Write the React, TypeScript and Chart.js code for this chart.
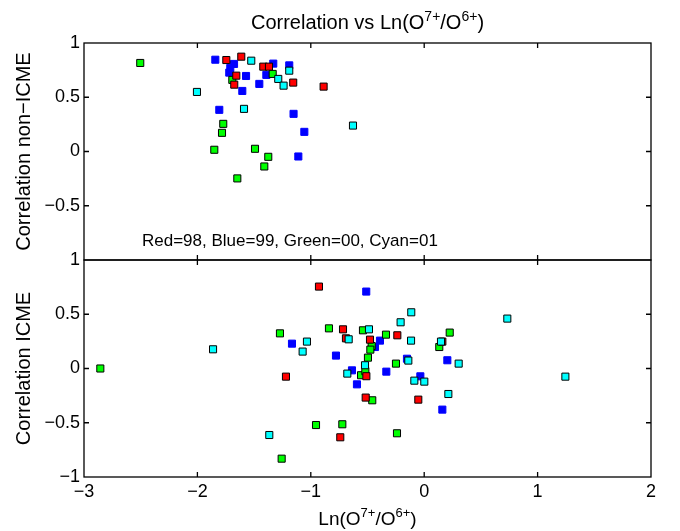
import { useEffect, useRef } from 'react';
import { Chart, registerables } from 'chart.js';

Chart.register(...registerables);

// ---------- data ----------
// Top panel: Correlation non-ICME
const redTopX = [-1.745, -1.613, -1.657, -1.675, -1.419, -1.369, -1.155, -0.887];
const redTopY = [0.843, 0.874, 0.699, 0.616, 0.782, 0.782, 0.635, 0.598];
const blueTopX = [-1.842, -1.677, -1.71, -1.719, -1.571, -1.604, -1.454, -1.331, -1.392, -1.19, -1.807, -1.152, -1.057, -1.11];
const blueTopY = [0.846, 0.807, 0.77, 0.727, 0.696, 0.558, 0.623, 0.81, 0.706, 0.794, 0.384, 0.347, 0.181, -0.046];
const greenTopX = [-2.504, -1.692, -1.336, -1.772, -1.783, -1.851, -1.492, -1.375, -1.41, -1.648];
const greenTopY = [0.816, 0.66, 0.715, 0.255, 0.172, 0.016, 0.025, -0.049, -0.138, -0.248];
const cyanTopX = [-1.525, -1.287, -1.24, -1.19, -2.004, -1.589, -0.628];
const cyanTopY = [0.837, 0.669, 0.607, 0.745, 0.549, 0.393, 0.239];

// Bottom panel: Correlation ICME
const redBotX = [-0.928, -0.716, -0.69, -0.478, -1.219, -0.51, -0.516, -0.74, -0.237, -0.052, 0.16];
const redBotY = [0.755, 0.361, 0.278, 0.266, -0.075, -0.071, -0.268, -0.634, 0.306, -0.287, 0.248];
const blueBotX = [-0.511, -1.166, -0.778, -0.637, -0.593, -0.39, -0.434, -0.334, -0.152, -0.034, 0.204, 0.16];
const blueBotY = [0.709, 0.229, 0.119, -0.017, -0.146, 0.257, 0.198, -0.029, 0.09, -0.072, 0.076, -0.379];
const greenBotX = [-2.856, -1.272, -0.84, -0.54, -0.496, -0.463, -0.475, -0.557, -0.519, -0.458, -0.954, -0.722, -1.257, -0.337, -0.249, -0.24, 0.225, 0.133];
const greenBotY = [0.0, 0.324, 0.37, 0.352, 0.1, 0.207, 0.174, -0.062, -0.025, -0.293, -0.521, -0.514, -0.831, 0.312, 0.045, -0.597, 0.331, 0.198];
const cyanBotX = [-1.862, -0.487, -1.034, -1.072, -0.666, -0.678, -0.522, -1.366, -0.208, -0.114, -0.116, -0.14, -0.087, 0.001, 0.148, 0.304, 0.213, 0.733, 1.245];
const cyanBotY = [0.177, 0.361, 0.248, 0.156, 0.269, -0.047, 0.03, -0.613, 0.426, 0.518, 0.257, 0.073, -0.112, -0.121, 0.248, 0.045, -0.235, 0.46, -0.075];

const xMin = -3;
const xMax = 2;
const xStep = 1;
const yMin = -1;
const yMax = 1;
const yStep = 0.5;

const titleParts = [
  { t: 'Correlation vs Ln(O' },
  { t: '7+', sup: true },
  { t: '/O' },
  { t: '6+', sup: true },
  { t: ')' },
];
const xTitleParts = [
  { t: 'Ln(O' },
  { t: '7+', sup: true },
  { t: '/O' },
  { t: '6+', sup: true },
  { t: ')' },
];
const yTopTitle = 'Correlation non\u2212ICME';
const yBotTitle = 'Correlation ICME';
const noteText = 'Red=98, Blue=99, Green=00, Cyan=01';

const FONT = "'Liberation Sans', Arial, sans-serif";

const zip = (xs: number[], ys: number[]) => xs.map((x, i) => ({ x, y: ys[i] }));

const fmt = (v: number) => {
  const s = String(Math.abs(Math.round(v * 100) / 100));
  return v < 0 ? '\u2212' + s : s;
};

function drawRich(ctx: CanvasRenderingContext2D, parts: { t: string; sup?: boolean }[], cx: number, baseline: number, size: number) {
  const supSize = Math.round(size * 0.7);
  let total = 0;
  const widths = parts.map((p) => {
    ctx.font = `${p.sup ? supSize : size}px ${FONT}`;
    const w = ctx.measureText(p.t).width;
    total += w;
    return w;
  });
  let x = cx - total / 2;
  ctx.textAlign = 'left';
  ctx.textBaseline = 'alphabetic';
  ctx.fillStyle = '#000';
  parts.forEach((p, i) => {
    ctx.font = `${p.sup ? supSize : size}px ${FONT}`;
    ctx.fillText(p.t, x, p.sup ? baseline - size * 0.42 : baseline);
    x += widths[i];
  });
}

const framePlugin = {
  id: 'matlabFrame',
  afterDraw(chart: any) {
    const ctx = chart.ctx as CanvasRenderingContext2D;
    const area = chart.chartArea;
    const xs = chart.scales.x;
    ctx.save();
    ctx.strokeStyle = '#000';
    ctx.lineWidth = 1.3;
    const tl = 5;
    ['yT', 'yB'].forEach((id) => {
      const s = chart.scales[id];
      const top = s.getPixelForValue(yMax);
      const bottom = s.getPixelForValue(yMin);
      ctx.strokeRect(area.left, top, area.right - area.left, bottom - top);
      ctx.beginPath();
      for (let v = xMin + xStep; v < xMax; v += xStep) {
        const px = xs.getPixelForValue(v);
        ctx.moveTo(px, top);
        ctx.lineTo(px, top + tl);
        ctx.moveTo(px, bottom);
        ctx.lineTo(px, bottom - tl);
      }
      for (let v = yMin + yStep; v < yMax - 1e-9; v += yStep) {
        const py = s.getPixelForValue(v);
        ctx.moveTo(area.left, py);
        ctx.lineTo(area.left + tl, py);
        ctx.moveTo(area.right, py);
        ctx.lineTo(area.right - tl, py);
      }
      ctx.stroke();
    });
    // texts
    drawRich(ctx, titleParts, (area.left + area.right) / 2, 29, 20);
    drawRich(ctx, xTitleParts, (area.left + area.right) / 2, 525, 19);
    ctx.font = `17px ${FONT}`;
    ctx.textAlign = 'left';
    ctx.textBaseline = 'alphabetic';
    ctx.fillStyle = '#000';
    ctx.fillText(noteText, 142, 246);
    ctx.restore();
  },
};

function mk(label: string, xs: number[], ys: number[], color: string, axis: string, order: number, border: string) {
  return {
    label,
    data: zip(xs, ys),
    yAxisID: axis,
    xAxisID: 'x',
    backgroundColor: color,
    borderColor: border,
    borderWidth: 1,
    pointStyle: 'rect',
    pointRadius: 5,
    pointHoverRadius: 5,
    order,
    showLine: false,
  };
}

export default function App() {
  const ref = useRef<HTMLCanvasElement>(null);
  useEffect(() => {
    if (!ref.current) return;
    const yScale = (title: string, hideMin: boolean) => ({
      type: 'linear',
      position: 'left',
      stack: 'panels',
      stackWeight: 1,
      min: yMin,
      max: yMax,
      afterFit: (s: any) => {
        s.width = 84;
      },
      grid: { display: false, drawTicks: false },
      border: { display: false },
      ticks: {
        stepSize: yStep,
        padding: 4,
        color: '#000',
        font: { size: 18, family: FONT },
        callback: (v: any) => (hideMin && v === yMin ? '' : fmt(Number(v))),
      },
      title: {
        display: true,
        text: title,
        color: '#000',
        font: { size: 20, family: FONT, weight: 'normal' },
        padding: { top: 12, bottom: 0 },
      },
    });
    const chart = new Chart(ref.current, {
      type: 'scatter',
      data: {
        datasets: [
          mk('Red 98 non-ICME', redTopX, redTopY, '#ff0000', 'yT', 1, '#000'),
          mk('Blue 99 non-ICME', blueTopX, blueTopY, '#0000ff', 'yT', 3, '#0000ff'),
          mk('Green 00 non-ICME', greenTopX, greenTopY, '#00ff00', 'yT', 2, '#000'),
          mk('Cyan 01 non-ICME', cyanTopX, cyanTopY, '#00ffff', 'yT', 0, '#000'),
          mk('Red 98 ICME', redBotX, redBotY, '#ff0000', 'yB', 1, '#000'),
          mk('Blue 99 ICME', blueBotX, blueBotY, '#0000ff', 'yB', 3, '#0000ff'),
          mk('Green 00 ICME', greenBotX, greenBotY, '#00ff00', 'yB', 2, '#000'),
          mk('Cyan 01 ICME', cyanBotX, cyanBotY, '#00ffff', 'yB', 0, '#000'),
        ] as any,
      },
      options: {
        animation: false,
        responsive: false,
        devicePixelRatio: 1,
        layout: { padding: { top: 43, right: 29, left: 0, bottom: 0 } },
        plugins: {
          legend: { display: false },
          tooltip: { enabled: false },
          title: { display: false },
        },
        events: [],
        scales: {
          x: {
            type: 'linear',
            position: 'bottom',
            min: xMin,
            max: xMax,
            afterFit: (s: any) => {
              s.height = 54;
            },
            grid: { display: false, drawTicks: false },
            border: { display: false },
            ticks: {
              stepSize: xStep,
              padding: 4,
              color: '#000',
              font: { size: 18, family: FONT },
              callback: (v: any) => fmt(Number(v)),
            },
          },
          yB: yScale(yBotTitle, false),
          yT: yScale(yTopTitle, true),
        } as any,
      },
      plugins: [framePlugin],
    });
    return () => chart.destroy();
  }, []);
  return (
    <div style={{ position: 'absolute', left: 0, top: 0, width: 680, height: 531, background: '#fff' }}>
      <canvas ref={ref} width={680} height={531} style={{ display: 'block', width: 680, height: 531 }} />
    </div>
  );
}
